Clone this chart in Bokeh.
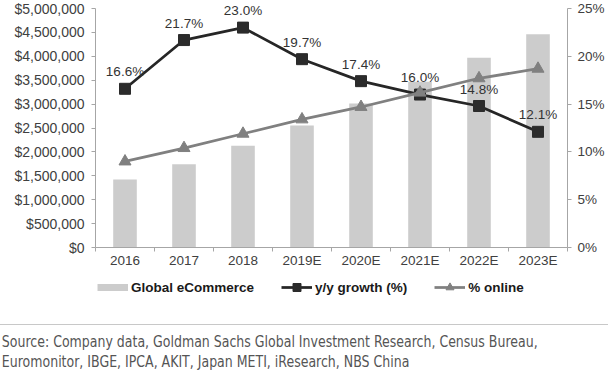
from bokeh.plotting import figure
from bokeh.models import (ColumnDataSource, Range1d, LinearAxis, FixedTicker, SingleIntervalTicker,
                          NumeralTickFormatter, PrintfTickFormatter, Legend, LegendItem, LabelSet, Div)
from bokeh.core.properties import value
from bokeh.layouts import column
from bokeh.embed import file_html
from bokeh.resources import INLINE

categories = ["2016", "2017", "2018", "2019E", "2020E", "2021E", "2022E", "2023E"]
ecommerce = [1420000, 1740000, 2130000, 2550000, 3010000, 3470000, 3970000, 4460000]
growth = [16.6, 21.7, 23.0, 19.7, 17.4, 16.0, 14.8, 12.1]
online = [9.0, 10.4, 11.9, 13.4, 14.7, 16.2, 17.7, 18.7]
series_names = ["Global eCommerce", "y/y growth (%)", "% online"]
source_lines = ["Source: Company data, Goldman Sachs Global Investment Research, Census Bureau,",
                "Euromonitor, IBGE, IPCA, AKIT, Japan METI, iResearch, NBS China"]

LEFT_MAX = 5000000
RIGHT_MAX = 25
HEAD = 246 / 239  # headroom above the top tick so data labels fit

BAR_COLOR = "#cccccc"
GROWTH_COLOR = "#262626"
ONLINE_COLOR = "#808080"
FONT = "Liberation Sans"
AXIS_COLOR = "#a6a6a6"
LABEL_COLOR = "#404040"

n = len(categories)
xs = list(range(n))
src = ColumnDataSource(dict(x=xs, cat=categories, ecom=ecommerce, growth=growth, online=online,
                            glabel=[f"{v:.1f}%" for v in growth]))

p = figure(width=608, height=272, output_backend="svg", toolbar_location=None,
           x_range=Range1d(-0.5, n - 0.5), y_range=Range1d(0, LEFT_MAX * HEAD),
           min_border_left=95, min_border_right=41, min_border_top=1, min_border_bottom=25,
           margin=(0, 0, 0, 0))
p.outline_line_color = None
p.grid.visible = False
p.extra_y_ranges = {"pct": Range1d(0, RIGHT_MAX * HEAD)}

p.vbar(x="x", top="ecom", width=0.4, source=src, fill_color=BAR_COLOR, line_color=None)
p.line(x="x", y="growth", source=src, y_range_name="pct", line_color=GROWTH_COLOR, line_width=2.75)
p.scatter(x="x", y="growth", source=src, y_range_name="pct", marker="square", size=11,
          fill_color="#2b2b2b", line_color="#2b2b2b")
p.line(x="x", y="online", source=src, y_range_name="pct", line_color=ONLINE_COLOR, line_width=2.75)
p.scatter(x="x", y="online", source=src, y_range_name="pct", marker="triangle", size=12,
          fill_color=ONLINE_COLOR, line_color=ONLINE_COLOR)

labels = LabelSet(x="x", y="growth", text="glabel", source=src, y_range_name="pct", y_offset=17,
                  text_align="center", text_baseline="middle", text_font=value(FONT),
                  text_font_size=value("13.5px"), text_color="#333333")
p.add_layout(labels)

# x axis: labels at category centres, ticks between categories
xa = p.xaxis[0]
xa.ticker = FixedTicker(ticks=xs, minor_ticks=[i - 0.5 for i in range(n + 1)])
xa.major_label_overrides = {i: c for i, c in zip(xs, categories)}
xa.major_tick_out = 0
xa.major_tick_in = 0
xa.minor_tick_out = 4
xa.minor_tick_in = 0
xa.minor_tick_line_color = AXIS_COLOR
xa.axis_line_color = AXIS_COLOR
xa.major_label_standoff = 1
xa.major_label_text_font = FONT
xa.major_label_text_font_size = "13.5px"
xa.major_label_text_color = LABEL_COLOR

ya = p.yaxis[0]
ya.ticker = SingleIntervalTicker(interval=500000, num_minor_ticks=0)
ya.formatter = NumeralTickFormatter(format="$0,0")
ya.bounds = (0, LEFT_MAX)
ya.major_tick_out = 4
ya.major_tick_in = 0
ya.minor_tick_line_color = None
ya.axis_line_color = AXIS_COLOR
ya.major_tick_line_color = AXIS_COLOR
ya.major_label_standoff = 7
ya.major_label_text_font = FONT
ya.major_label_text_font_size = "14px"
ya.major_label_text_color = LABEL_COLOR

ra = LinearAxis(y_range_name="pct", ticker=SingleIntervalTicker(interval=5, num_minor_ticks=0),
                formatter=PrintfTickFormatter(format="%d%%"), bounds=(0, RIGHT_MAX))
ra.major_tick_out = 4
ra.major_tick_in = 0
ra.minor_tick_line_color = None
ra.axis_line_color = AXIS_COLOR
ra.major_tick_line_color = AXIS_COLOR
ra.major_label_standoff = 6
ra.major_label_text_font = FONT
ra.major_label_text_font_size = "13.5px"
ra.major_label_text_color = LABEL_COLOR
p.add_layout(ra, "right")

# legend strip (its frame lines up with the chart frame); the series sit outside its view
lg = figure(width=608, height=30, output_backend="svg", toolbar_location=None,
            x_range=Range1d(0, 1), y_range=Range1d(0, 1), x_axis_location=None, y_axis_location=None,
            min_border=0, margin=(0, 0, 0, 0))
lg.outline_line_color = None
lg.grid.visible = False
k_bar = lg.line(x="x", y="ecom", source=src, line_color=BAR_COLOR, line_width=7)
k_gl = lg.line(x="x", y="growth", source=src, line_color=GROWTH_COLOR, line_width=2.75)
k_gm = lg.scatter(x="x", y="growth", source=src, marker="square", fill_color="#2b2b2b", line_color="#2b2b2b")
k_ol = lg.line(x="x", y="online", source=src, line_color=ONLINE_COLOR, line_width=2.75)
k_om = lg.scatter(x="x", y="online", source=src, marker="triangle", fill_color=ONLINE_COLOR, line_color=ONLINE_COLOR)
legend = Legend(items=[LegendItem(label=series_names[0], renderers=[k_bar]),
                       LegendItem(label=series_names[1], renderers=[k_gl, k_gm]),
                       LegendItem(label=series_names[2], renderers=[k_ol, k_om])],
                location=(2, 5), orientation="horizontal", glyph_width=31, glyph_height=20,
                label_height=20, label_standoff=3, spacing=27, padding=0, margin=0,
                border_line_color=None, background_fill_alpha=0,
                label_text_font=FONT, label_text_font_style="bold", label_text_font_size="13.5px",
                label_text_color="#1a1a1a")
lg.add_layout(legend)

div_html = ('<div style="height:22px"></div>'
            '<div style="width:608px;height:0;border-top:1px solid #c8c8c8"></div>'
            "<div style=\"padding-top:7px;padding-left:2px;font-family:'DejaVu Sans Condensed',sans-serif;"
            'font-size:15px;line-height:20px;color:#555555;white-space:nowrap;'
            'transform:scaleX(0.93);transform-origin:0 0">'
            + "<br>".join(source_lines) + "</div>")
div = Div(text=div_html, width=608, height=71, margin=(0, 0, 0, 0))

layout = column(p, lg, div, spacing=0)
open("out.html", "w").write(file_html(layout, INLINE))
